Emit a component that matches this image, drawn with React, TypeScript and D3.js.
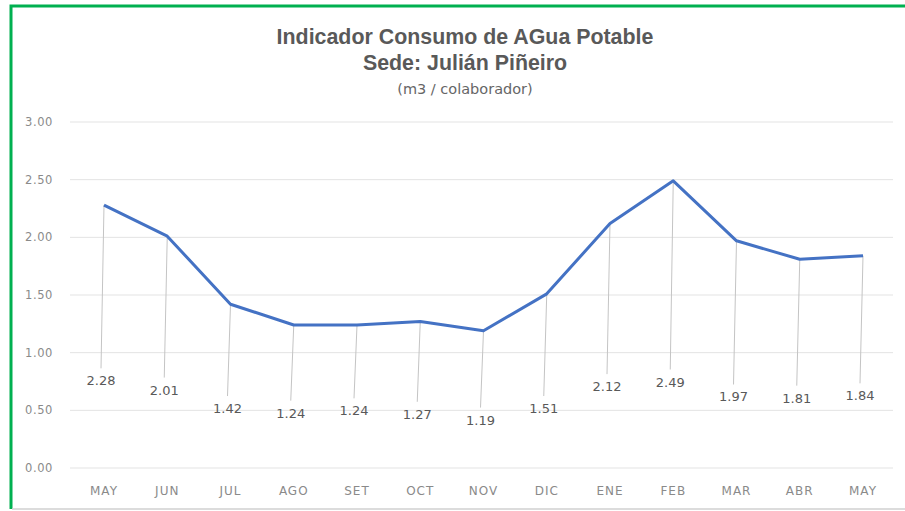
import React, { useEffect, useRef } from 'react';
import * as d3 from 'd3';

const months = ['MAY', 'JUN', 'JUL', 'AGO', 'SET', 'OCT', 'NOV', 'DIC', 'ENE', 'FEB', 'MAR', 'ABR', 'MAY'];
const consumo = [2.28, 2.01, 1.42, 1.24, 1.24, 1.27, 1.19, 1.51, 2.12, 2.49, 1.97, 1.81, 1.84];
// where Excel left each data label (axis units)
const labelLevels = [0.76, 0.68, 0.52, 0.48, 0.5, 0.47, 0.42, 0.52, 0.71, 0.75, 0.62, 0.61, 0.63];
const yTicks = [0, 0.5, 1, 1.5, 2, 2.5, 3];

const W = 905;
const H = 511;

const App: React.FC = () => {
  const ref = useRef<SVGSVGElement>(null);

  useEffect(() => {
    const svg = d3.select(ref.current);
    svg.selectAll('*').remove();

    // frame
    svg.append('rect').attr('x', 0).attr('y', 0).attr('width', W).attr('height', H).attr('fill', '#fff');
    svg.append('path')
      .attr('d', `M11,${H - 2} L11,6 L${W},6`)
      .attr('fill', 'none')
      .attr('stroke', '#00b050')
      .attr('stroke-width', 3);
    svg.append('line')
      .attr('x1', 12).attr('x2', W).attr('y1', 509).attr('y2', 509)
      .attr('stroke', '#d0d0d0').attr('stroke-width', 1.5);

    // titles (the original uses a condensed face, so squeeze it a little)
    const title = svg.append('g').attr('fill', '#595959').attr('text-anchor', 'middle');
    title.append('text')
      .attr('transform', 'translate(465,44) scale(0.93,1)')
      .attr('font-family', 'Liberation Sans, sans-serif')
      .attr('font-weight', 'bold').attr('font-size', 23)
      .text('Indicador Consumo de AGua Potable');
    title.append('text')
      .attr('transform', 'translate(465,70) scale(0.93,1)')
      .attr('font-family', 'Liberation Sans, sans-serif')
      .attr('font-weight', 'bold').attr('font-size', 23)
      .text('Sede: Julián Piñeiro');
    title.append('text')
      .attr('x', 465).attr('y', 94)
      .attr('font-family', 'DejaVu Sans, sans-serif')
      .attr('font-size', 14.5)
      .attr('fill', '#666')
      .text('(m3 / colaborador)');

    const x = d3.scalePoint<number>()
      .domain(d3.range(months.length))
      .range([104, 863]);
    const y = d3.scaleLinear().domain([0, 3]).range([468, 122]);

    // grid + y labels
    const grid = svg.append('g');
    grid.selectAll('line')
      .data(yTicks)
      .enter()
      .append('line')
      .attr('x1', 70).attr('x2', 893)
      .attr('y1', (d) => y(d)).attr('y2', (d) => y(d))
      .attr('stroke', '#e3e3e3').attr('stroke-width', 1);
    grid.selectAll('text')
      .data(yTicks)
      .enter()
      .append('text')
      .attr('x', 25).attr('y', (d) => y(d) + 4)
      .attr('font-family', 'DejaVu Sans, sans-serif').attr('font-size', 11.5)
      .attr('letter-spacing', 0.6)
      .attr('fill', '#8a8a8a')
      .text((d) => d3.format('.2f')(d));

    // x labels
    svg.append('g')
      .selectAll('text')
      .data(months)
      .enter()
      .append('text')
      .attr('x', (_d, i) => x(i) ?? 0).attr('y', 495)
      .attr('text-anchor', 'middle')
      .attr('font-family', 'DejaVu Sans, sans-serif').attr('font-size', 12)
      .attr('letter-spacing', 1)
      .attr('fill', '#8a8a8a')
      .text((d) => d);

    // leader lines
    svg.append('g')
      .selectAll('line')
      .data(consumo)
      .enter()
      .append('line')
      .attr('x1', (_d, i) => x(i) ?? 0).attr('y1', (d) => y(d))
      .attr('x2', (_d, i) => (x(i) ?? 0) - 3).attr('y2', (_d, i) => y(labelLevels[i]) - 12)
      .attr('stroke', '#c4c4c4').attr('stroke-width', 1);

    // line
    const line = d3.line<number>()
      .x((_d, i) => x(i) ?? 0)
      .y((d) => y(d));
    svg.append('path')
      .datum(consumo)
      .attr('d', line)
      .attr('fill', 'none')
      .attr('stroke', '#4472c4')
      .attr('stroke-width', 3)
      .attr('stroke-linejoin', 'round');

    // data labels
    svg.append('g')
      .selectAll('text')
      .data(consumo)
      .enter()
      .append('text')
      .attr('x', (_d, i) => (x(i) ?? 0) - 3).attr('y', (_d, i) => y(labelLevels[i]) + 5)
      .attr('text-anchor', 'middle')
      .attr('font-family', 'DejaVu Sans, sans-serif').attr('font-size', 13)
      .attr('fill', '#595959')
      .text((d) => d3.format('.2f')(d));
  }, []);

  return (
    <svg
      ref={ref}
      width={W}
      height={H}
      style={{ position: 'absolute', left: 0, top: 0 }}
    />
  );
};

export default App;
